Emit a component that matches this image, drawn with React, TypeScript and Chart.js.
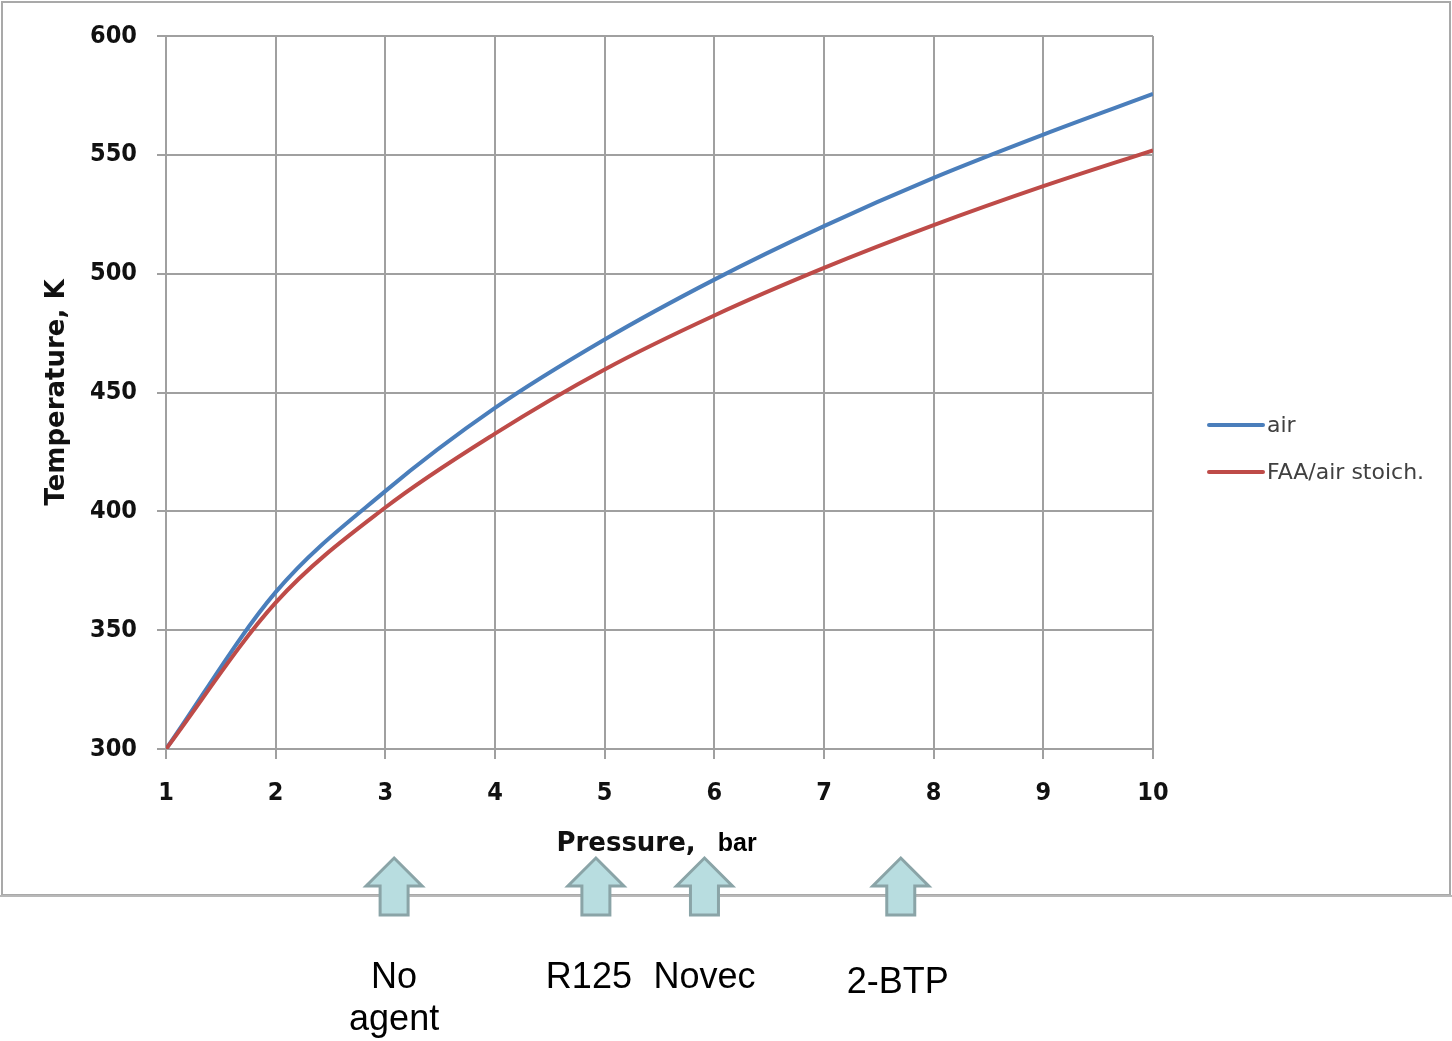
import React, { useEffect, useRef } from "react";
import { Chart, registerables } from "chart.js";

Chart.register(...registerables);

// ---- data ----
const pressures = [1, 2, 3, 4, 5, 6, 7, 8, 9, 10];
const airTemps = [300, 366, 408.5, 443.5, 472.3, 497.5, 520, 540.3, 558.5, 575.6];
const faaTemps = [300, 361.6, 401.6, 432.7, 459.7, 482.4, 502.4, 520.4, 536.8, 551.9];
const seriesLabels = ["air", "FAA/air stoich."];
const seriesColors = ["#4A7EBB", "#BE4B48"];
const xTitleParts = ["Pressure,", "bar"];
const yTitleText = "Temperature, K";
const agentPressures = [3.08, 4.92, 5.91, 7.7];
const agentLabels = [["No", "agent"], ["R125"], ["Novec"], ["2-BTP"]];

// ---- layout constants ----
const W = 1452;
const H = 1041;
const labelDx = [0, -7, 0, -3];
const labelBaseline = [988, 988, 988, 993];

const decorPlugin = {
  id: "decor",
  beforeDraw(chart: any) {
    const ctx = chart.ctx;
    ctx.save();
    ctx.fillStyle = "#ffffff";
    ctx.fillRect(0, 0, chart.width, chart.height);
    ctx.strokeStyle = "#a9a9a9";
    ctx.lineWidth = 2;
    ctx.strokeRect(2, 2, 1448, 893);
    ctx.beginPath();
    ctx.moveTo(0, 896);
    ctx.lineTo(W, 896);
    ctx.strokeStyle = "#b8b8b8";
    ctx.stroke();
    ctx.restore();
  },
  afterDraw(chart: any) {
    const { ctx, chartArea, scales } = chart;
    ctx.save();
    // x axis title (mixed fonts)
    ctx.fillStyle = "#111111";
    ctx.textBaseline = "alphabetic";
    ctx.textAlign = "left";
    const f1 = "bold 26px 'DejaVu Sans'";
    const f2 = "bold 25px 'Liberation Sans'";
    ctx.font = f1;
    const w1 = ctx.measureText(xTitleParts[0]).width;
    ctx.font = f2;
    const w2 = ctx.measureText(xTitleParts[1]).width;
    const gap = 22;
    const cx = (chartArea.left + chartArea.right) / 2 - 3;
    const x0 = cx - (w1 + gap + w2) / 2;
    ctx.font = f1;
    ctx.fillText(xTitleParts[0], x0, 851);
    ctx.font = f2;
    ctx.fillStyle = "#000000";
    ctx.fillText(xTitleParts[1], x0 + w1 + gap, 851);

    // legend
    const lx = chartArea.right + 56;
    const ly = [chartArea.top + 389, chartArea.top + 436];
    const legendOrder = [0, 1];
    legendOrder.forEach((i, k) => {
      ctx.beginPath();
      ctx.lineCap = "round";
      ctx.lineWidth = 4;
      ctx.strokeStyle = seriesColors[i];
      ctx.moveTo(lx, ly[k]);
      ctx.lineTo(lx + 54, ly[k]);
      ctx.stroke();
      ctx.font = "22px 'DejaVu Sans'";
      ctx.fillStyle = "#404040";
      ctx.textBaseline = "middle";
      ctx.fillText(seriesLabels[i], lx + 58, ly[k] + 1);
    });

    // arrows and agent labels
    const xs = scales.x;
    agentPressures.forEach((p, i) => {
      const ax = xs.getPixelForValue(p);
      ctx.beginPath();
      ctx.moveTo(ax, 858);
      ctx.lineTo(ax + 28, 886);
      ctx.lineTo(ax + 14, 886);
      ctx.lineTo(ax + 14, 915);
      ctx.lineTo(ax - 14, 915);
      ctx.lineTo(ax - 14, 886);
      ctx.lineTo(ax - 28, 886);
      ctx.closePath();
      ctx.fillStyle = "#B8DDE0";
      ctx.fill();
      ctx.lineWidth = 3;
      ctx.lineJoin = "miter";
      ctx.strokeStyle = "#8AA4A7";
      ctx.stroke();

      ctx.font = "36px 'Liberation Sans'";
      ctx.fillStyle = "#000000";
      ctx.textAlign = "center";
      ctx.textBaseline = "alphabetic";
      agentLabels[i].forEach((t, j) => {
        ctx.fillText(t, ax + labelDx[i], labelBaseline[i] + j * 42);
      });
      ctx.textAlign = "left";
    });
    ctx.restore();
  },
};

export default function App() {
  const ref = useRef<HTMLCanvasElement | null>(null);

  useEffect(() => {
    if (!ref.current) return;
    const tickFont = {
      family: "'DejaVu Sans Condensed', 'DejaVu Sans', sans-serif",
      weight: "bold" as const,
      size: 25,
    };
    const gridColor = "#a0a0a0";
    const chart = new Chart(ref.current, {
      type: "line",
      data: {
        datasets: [
          {
            label: seriesLabels[0],
            data: pressures.map((p, i) => ({ x: p, y: airTemps[i] })),
            borderColor: seriesColors[0],
            backgroundColor: seriesColors[0],
            borderWidth: 4,
            pointRadius: 0,
            cubicInterpolationMode: "monotone",
            fill: false,
            order: 1,
          },
          {
            label: seriesLabels[1],
            data: pressures.map((p, i) => ({ x: p, y: faaTemps[i] })),
            borderColor: seriesColors[1],
            backgroundColor: seriesColors[1],
            borderWidth: 4,
            pointRadius: 0,
            cubicInterpolationMode: "monotone",
            fill: false,
            order: 0,
          },
        ],
      },
      options: {
        responsive: false,
        animation: false,
        devicePixelRatio: 1,
        layout: { padding: { left: 0, top: 36, right: W - 1153, bottom: 0 } },
        plugins: {
          legend: { display: false },
          tooltip: { enabled: false },
          title: { display: false },
        },
        scales: {
          x: {
            type: "linear",
            min: 1,
            max: 10,
            ticks: { stepSize: 1, font: tickFont, color: "#111111", padding: 19 },
            grid: { color: gridColor, lineWidth: 2, tickLength: 10 },
            border: { display: true, color: gridColor, width: 2 },
            afterFit: (scale: any) => {
              scale.height = H - 749;
            },
          },
          y: {
            type: "linear",
            min: 300,
            max: 600,
            ticks: { stepSize: 50, font: tickFont, color: "#111111", padding: 20 },
            grid: { color: gridColor, lineWidth: 2, tickLength: 9 },
            border: { display: true, color: gridColor, width: 2 },
            title: {
              display: true,
              text: yTitleText,
              font: { family: "'DejaVu Sans'", weight: "bold", size: 26 },
              color: "#111111",
              padding: { top: 42, bottom: 0 },
            },
            afterFit: (scale: any) => {
              scale.width = 166;
            },
          },
        },
      },
      plugins: [decorPlugin],
    });
    return () => chart.destroy();
  }, []);

  return (
    <div style={{ position: "absolute", left: 0, top: 0, width: W, height: H, background: "#fff" }}>
      <canvas ref={ref} width={W} height={H} style={{ width: W, height: H, display: "block" }} />
    </div>
  );
}
